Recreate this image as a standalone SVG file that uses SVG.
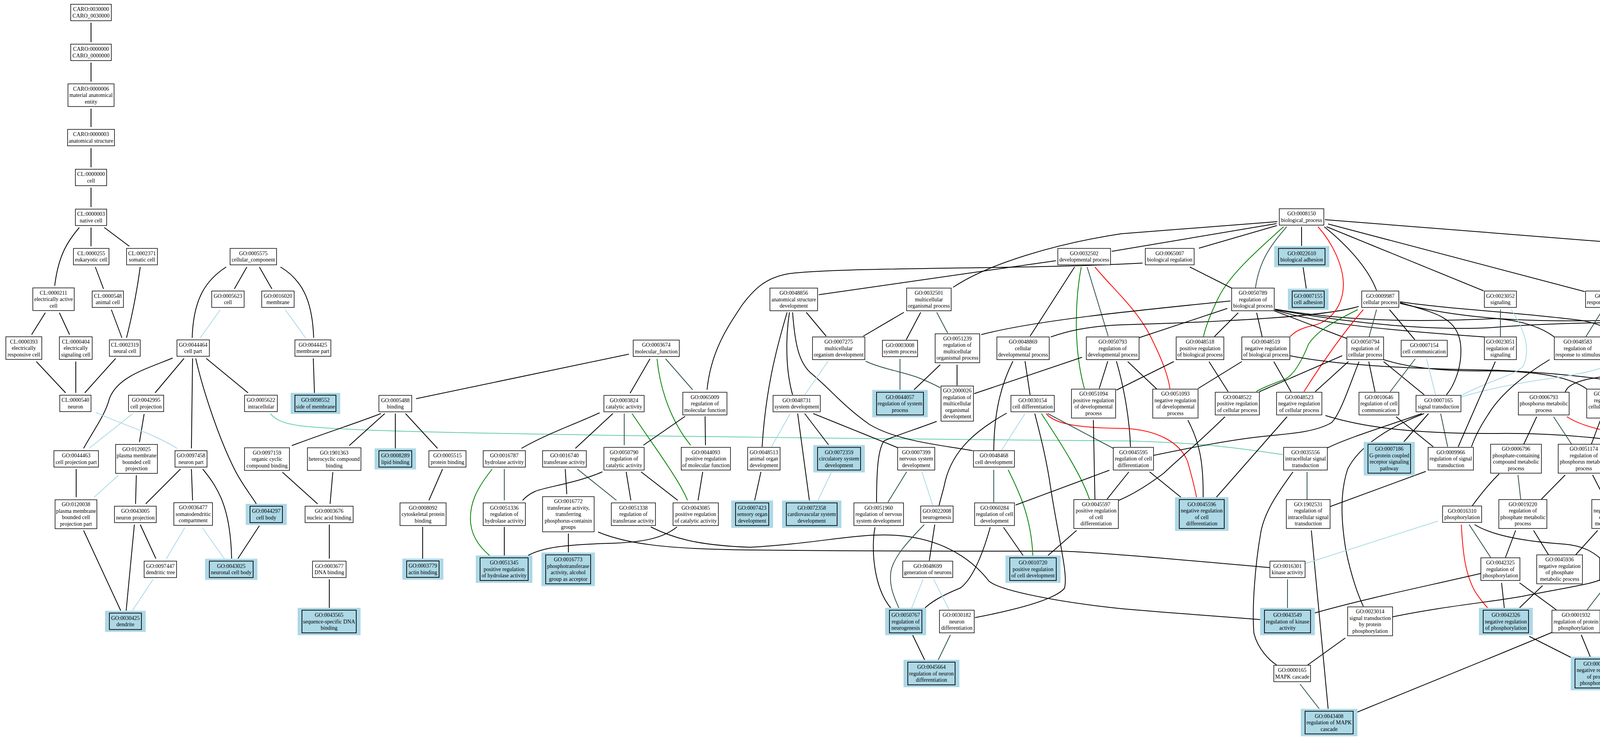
<svg xmlns="http://www.w3.org/2000/svg" width="5759" height="1888" viewBox="0 0 5759 1888" style="width:5759px;height:1888px;max-width:none;max-height:none;display:block">
<style>
.n rect{fill:#fff;stroke:#000;stroke-width:1.5}
.h .o{fill:#add8e6;stroke:none}
.h .i{fill:#add8e6;stroke:#000;stroke-width:1.8}
text{font-family:"Liberation Serif","Times New Roman",serif;font-size:14px;text-anchor:middle;fill:#000}
#edges path{fill:none;stroke-width:2}
.k{stroke:#000}.p{stroke:#add8e6}.r{stroke:#2f4f4f}.g{stroke:#008000}.x{stroke:#ff0000}.a{stroke:#66cdaa}
</style>
<rect width="5759" height="1888" fill="#fff"/>
<g id="edges">
<path class="k" d="M233,58 L233,108"/>
<path class="k" d="M233,160 L233,209"/>
<path class="k" d="M233,278 L233,325"/>
<path class="k" d="M233,379 L233,428"/>
<path class="k" d="M233,480 L233,530"/>
<path class="k" d="M203,582 C175,615 150,650 140,731"/>
<path class="k" d="M233,582 L233,630"/>
<path class="k" d="M267,582 L331,630"/>
<path class="k" d="M244,683 L265,739"/>
<path class="k" d="M359,683 C350,750 335,820 324,864"/>
<path class="k" d="M116,800 L81,856"/>
<path class="k" d="M152,800 L178,856"/>
<path class="k" d="M285,792 L312,864"/>
<path class="k" d="M579,683 C530,715 495,760 492,864"/>
<path class="k" d="M632,683 L600,739"/>
<path class="k" d="M664,683 L696,739"/>
<path class="k" d="M718,683 C780,720 800,780 803,864"/>
<path class="p" d="M564,792 L513,864"/>
<path class="p" d="M730,792 L782,864"/>
<path class="k" d="M93,925 L168,1005"/>
<path class="k" d="M194,925 L194,1005"/>
<path class="k" d="M296,917 L217,1005"/>
<path class="k" d="M442,916 C370,945 300,965 280,1020 C270,1060 240,1100 214,1147"/>
<path class="k" d="M471,917 L397,1005"/>
<path class="k" d="M493,917 L490,1147"/>
<path class="k" d="M501,917 C520,1000 560,1120 600,1200 C620,1240 645,1270 656,1289"/>
<path class="k" d="M528,917 L635,1005"/>
<path class="k" d="M802,917 L805,1005"/>
<path class="a" d="M692,1058 C720,1090 760,1092 960,1101 C1400,1115 2500,1125 2880,1128 C3100,1133 3190,1150 3284,1163"/>
<path class="k" d="M369,1059 L357,1131"/>
<path class="p" d="M340,1058 L228,1147"/>
<path class="p" d="M245,1055 C300,1080 360,1100 392,1115 C420,1128 440,1138 453,1147"/>
<path class="k" d="M195,1200 L195,1272"/>
<path class="p" d="M303,1216 L241,1272"/>
<path class="k" d="M349,1216 L347,1289"/>
<path class="k" d="M462,1200 L373,1289"/>
<path class="k" d="M490,1200 L493,1280"/>
<path class="k" d="M519,1200 C560,1250 590,1300 593,1429"/>
<path class="k" d="M214,1357 L309,1562"/>
<path class="k" d="M344,1342 L323,1562"/>
<path class="k" d="M359,1342 L399,1429"/>
<path class="p" d="M473,1350 L426,1429"/>
<path class="p" d="M518,1350 L574,1429"/>
<path class="k" d="M664,1345 L609,1429"/>
<path class="p" d="M392,1482 L339,1562"/>
<path class="k" d="M723,1208 L813,1289"/>
<path class="k" d="M852,1208 L845,1289"/>
<path class="k" d="M843,1342 L843,1429"/>
<path class="k" d="M843,1482 L843,1555"/>
<path class="k" d="M975,1058 C920,1080 840,1105 747,1140"/>
<path class="k" d="M985,1058 L894,1140"/>
<path class="k" d="M1610,906 L1065,1020"/>
<path class="k" d="M1664,918 L1613,1006"/>
<path class="g" d="M1682,918 C1690,1000 1720,1080 1768,1139"/>
<path class="r" d="M1704,918 L1773,997"/>
<path class="k" d="M2925,673 C2600,690 2150,683 2020,700 C1960,710 1930,740 1900,780 C1860,840 1820,900 1810,997"/>
<path class="k" d="M1012,1058 L1012,1147"/>
<path class="k" d="M1038,1058 L1120,1147"/>
<path class="k" d="M1535,1056 C1460,1090 1400,1110 1335,1147"/>
<path class="k" d="M1569,1058 L1473,1147"/>
<path class="r" d="M1598,1058 L1598,1139"/>
<path class="g" d="M1618,1058 C1680,1150 1740,1230 1760,1280"/>
<path class="k" d="M1754,1065 L1647,1139"/>
<path class="k" d="M1805,1065 L1806,1139"/>
<path class="k" d="M1133,1200 L1098,1280"/>
<path class="g" d="M1260,1200 C1220,1250 1200,1290 1205,1340 C1210,1380 1235,1405 1253,1421"/>
<path class="r" d="M1291,1200 L1291,1280"/>
<path class="k" d="M1447,1200 L1451,1264"/>
<path class="r" d="M1478,1200 L1578,1280"/>
<path class="k" d="M1542,1207 C1480,1235 1400,1245 1370,1257 C1355,1264 1345,1272 1338,1280"/>
<path class="k" d="M1603,1207 L1615,1280"/>
<path class="k" d="M1641,1207 L1735,1280"/>
<path class="k" d="M1799,1207 L1787,1280"/>
<path class="k" d="M1082,1348 L1082,1429"/>
<path class="k" d="M1291,1348 L1291,1421"/>
<path class="k" d="M1455,1365 L1455,1413"/>
<path class="k" d="M1733,1348 C1700,1375 1650,1388 1560,1390 C1450,1393 1390,1400 1352,1421"/>
<path class="k" d="M1666,1348 C1720,1375 1780,1395 1920,1400 C2100,1390 2200,1362 2300,1370 C2400,1378 2480,1420 2532,1487 C2560,1510 2700,1540 2880,1558 C3000,1568 3150,1580 3226,1585"/>
<path class="k" d="M1531,1361 C1600,1390 1700,1405 1920,1407 C2300,1411 2600,1410 2716,1410 C2800,1412 3000,1430 3250,1452"/>
<path class="k" d="M3270,567 L2870,598 C2700,624 2530,675 2440,735"/>
<path class="k" d="M3268,572 L2846,643"/>
<path class="k" d="M2703,667 L2096,754"/>
<path class="k" d="M2751,683 L2637,860"/>
<path class="g" d="M2768,683 C2750,780 2750,900 2776,994"/>
<path class="r" d="M2783,683 L2837,860"/>
<path class="x" d="M2803,683 C2850,740 2910,790 2945,860 C2975,920 2990,960 2995,994"/>
<path class="k" d="M3150,770 C2900,795 2650,820 2512,856"/>
<path class="k" d="M3478,784 C3400,808 3180,822 2870,831 C2780,835 2730,848 2690,862"/>
<path class="k" d="M2015,799 C1985,900 1960,1000 1951,1143"/>
<path class="k" d="M2021,799 C2010,870 2012,950 2029,1010"/>
<path class="k" d="M2029,799 C2035,880 2045,930 2079,957 C2130,1000 2160,1040 2226,1086 C2300,1130 2420,1140 2490,1153"/>
<path class="k" d="M2064,799 L2115,860"/>
<path class="k" d="M2314,799 L2210,860"/>
<path class="k" d="M2357,799 L2320,869"/>
<path class="r" d="M2398,799 L2426,852"/>
<path class="p" d="M2120,924 L2060,1010"/>
<path class="r" d="M2216,924 C2260,945 2330,955 2360,970 C2380,978 2392,984 2407,992"/>
<path class="r" d="M2304,918 L2304,997"/>
<path class="k" d="M2407,933 L2340,997"/>
<path class="k" d="M2450,933 L2450,986"/>
<path class="k" d="M2770,914 L2494,1007"/>
<path class="k" d="M2624,924 L2637,1010"/>
<path class="k" d="M2593,924 C2560,990 2545,1060 2544,1152"/>
<path class="k" d="M2836,924 L2814,994"/>
<path class="k" d="M2858,924 C2880,1000 2892,1080 2894,1143"/>
<path class="k" d="M3005,925 L2858,998"/>
<path class="p" d="M2624,1058 L2564,1152"/>
<path class="k" d="M2577,1057 C2500,1100 2440,1150 2420,1230 C2415,1255 2408,1275 2404,1293"/>
<path class="k" d="M2649,1058 C2665,1120 2680,1180 2690,1250 C2710,1380 2735,1470 2725,1505 C2700,1535 2600,1560 2496,1580"/>
<path class="g" d="M2666,1058 C2720,1140 2770,1220 2789,1277"/>
<path class="x" d="M2678,1058 C2700,1085 2760,1095 2880,1096 C2960,1100 3020,1130 3040,1180 C3050,1215 3058,1245 3063,1272"/>
<path class="r" d="M2682,1058 L2850,1147"/>
<path class="k" d="M2799,1075 L2803,1277"/>
<path class="p" d="M2023,1058 L1975,1143"/>
<path class="k" d="M2042,1058 L2072,1280"/>
<path class="k" d="M2060,1058 L2121,1138"/>
<path class="k" d="M2082,1058 L2300,1146"/>
<path class="k" d="M2398,1078 C2340,1100 2290,1115 2263,1128 C2248,1150 2244,1200 2244,1285"/>
<path class="k" d="M1948,1207 L1932,1280"/>
<path class="p" d="M2128,1209 L2094,1280"/>
<path class="r" d="M2321,1207 L2273,1285"/>
<path class="p" d="M2360,1207 L2388,1293"/>
<path class="r" d="M2544,1202 L2544,1285"/>
<path class="g" d="M2581,1202 C2605,1250 2640,1320 2644,1421"/>
<path class="k" d="M2840,1203 L2600,1292"/>
<path class="k" d="M2890,1207 L2834,1277"/>
<path class="k" d="M2943,1207 L3023,1272"/>
<path class="k" d="M3136,1066 C3060,1140 3000,1190 2980,1210 C2940,1240 2900,1265 2864,1280"/>
<path class="k" d="M2240,1349 C2230,1400 2235,1500 2280,1555"/>
<path class="r" d="M2366,1342 C2330,1380 2290,1420 2281,1460 C2275,1500 2290,1530 2301,1555"/>
<path class="k" d="M2393,1342 L2379,1434"/>
<path class="k" d="M2535,1349 C2515,1420 2490,1480 2459,1504 C2420,1520 2390,1535 2368,1555"/>
<path class="k" d="M2569,1349 L2619,1421"/>
<path class="k" d="M2756,1357 L2683,1421"/>
<path class="p" d="M2363,1482 L2334,1555"/>
<path class="p" d="M2390,1482 L2430,1560"/>
<path class="k" d="M2336,1624 L2367,1688"/>
<path class="r" d="M2433,1624 L2402,1688"/>
<path class="k" d="M3269,577 L3069,635"/>
<path class="r" d="M3294,580 C3260,620 3225,660 3214,736"/>
<path class="g" d="M3286,580 C3220,640 3150,700 3120,760 C3100,800 3085,840 3081,861"/>
<path class="k" d="M3332,580 L3332,629"/>
<path class="x" d="M3374,580 C3410,620 3440,680 3439,731 C3437,790 3400,825 3360,833 C3330,840 3315,848 3303,861"/>
<path class="k" d="M3390,580 C3440,620 3500,680 3524,743"/>
<path class="k" d="M3396,580 L3798,744"/>
<path class="k" d="M3400,573 L4057,746"/>
<path class="k" d="M3392,562 L4521,651"/>
<path class="k" d="M3336,684 L3344,738"/>
<path class="k" d="M3046,683 L3153,737"/>
<path class="k" d="M3142,789 L2916,864"/>
<path class="k" d="M3170,800 L3109,861"/>
<path class="k" d="M3217,800 L3231,861"/>
<path class="k" d="M3262,795 L3448,866"/>
<path class="k" d="M3264,793 C3360,822 3480,840 3800,862"/>
<path class="k" d="M3264,791 C3500,830 3700,820 3830,815 C3900,820 3950,840 3979,862"/>
<path class="k" d="M3264,792 C3500,835 3700,845 3820,838 C4000,823 4300,820 4400,835 C4460,845 4495,855 4523,866"/>
<path class="g" d="M3476,792 C3400,830 3370,850 3350,880 C3330,930 3310,960 3290,970 C3250,985 3225,995 3216,1002"/>
<path class="x" d="M3490,792 C3440,850 3390,920 3338,1002"/>
<path class="r" d="M3524,792 L3505,861"/>
<path class="k" d="M3557,792 L3622,869"/>
<path class="k" d="M3584,772 C3700,790 3900,800 4050,820 C4100,830 4130,845 4148,861"/>
<path class="k" d="M3584,776 C3800,830 4000,820 4150,820 C4230,822 4280,840 4306,861"/>
<path class="k" d="M3584,774 C3670,800 3730,810 3739,880 C3745,940 3720,990 3703,1010"/>
<path class="k" d="M3095,925 L3144,1002"/>
<path class="k" d="M3179,925 L3067,994"/>
<path class="k" d="M3261,925 L3305,1002"/>
<path class="k" d="M3302,910 C3450,940 3700,945 3830,947 C4000,955 4150,970 4265,1004"/>
<path class="k" d="M3436,910 L3224,1002"/>
<path class="k" d="M3452,925 L3367,1002"/>
<path class="k" d="M3479,925 C3450,1000 3430,1060 3409,1081 C3370,1105 3300,1110 3237,1116 C3150,1125 3050,1145 2953,1165"/>
<path class="k" d="M3504,925 L3520,1002"/>
<path class="k" d="M3542,925 L3646,1010"/>
<path class="k" d="M3542,920 C3620,945 3720,950 3820,949 C3940,950 4020,965 4062,995"/>
<path class="r" d="M3623,918 L3559,1002"/>
<path class="p" d="M3652,918 L3675,1010"/>
<path class="r" d="M3841,792 L3841,861"/>
<path class="p" d="M3869,792 C3900,840 3920,890 3900,936 C3880,960 3820,970 3740,1012"/>
<path class="p" d="M4141,925 C4100,945 4050,958 3942,972 C3860,985 3790,1000 3740,1016"/>
<path class="k" d="M3828,925 L3733,1143"/>
<path class="k" d="M3967,920 C3900,960 3840,1010 3810,1060 C3790,1090 3775,1120 3767,1143"/>
<path class="k" d="M3574,1066 L3669,1143"/>
<path class="r" d="M3688,1058 L3706,1143"/>
<path class="k" d="M3657,1058 L3594,1130"/>
<path class="k" d="M3646,1058 C3560,1090 3480,1140 3450,1200 C3430,1260 3433,1330 3445,1405 C3460,1480 3480,1530 3490,1551"/>
<path class="k" d="M3640,1058 C3550,1090 3450,1120 3398,1146"/>
<path class="k" d="M3393,1063 C3480,1090 3600,1110 3830,1109 C4000,1107 4150,1125 4216,1142"/>
<path class="k" d="M3295,1066 L3114,1272"/>
<path class="k" d="M3041,1075 C3070,1130 3081,1180 3080,1272"/>
<path class="r" d="M3346,1207 L3346,1277"/>
<path class="k" d="M3310,1207 C3280,1250 3240,1300 3228,1360 C3212,1450 3205,1560 3210,1620 C3220,1660 3250,1690 3268,1701"/>
<path class="k" d="M3650,1206 L3405,1296"/>
<path class="k" d="M3357,1357 L3400,1813"/>
<path class="r" d="M3296,1482 L3296,1555"/>
<path class="p" d="M3681,1333 L3341,1442"/>
<path class="x" d="M3741,1342 C3745,1420 3752,1470 3776,1513 C3790,1535 3800,1545 3808,1555"/>
<path class="r" d="M3761,1342 L3816,1426"/>
<path class="k" d="M3775,1342 C3820,1370 3900,1385 4004,1392 C4050,1396 4075,1410 4095,1427"/>
<path class="k" d="M3791,1467 C3650,1500 3500,1530 3366,1568"/>
<path class="k" d="M3444,1632 L3348,1701"/>
<path class="k" d="M3565,1578 C3700,1550 3820,1540 3900,1525 C4000,1505 4070,1495 4095,1484"/>
<path class="r" d="M3328,1750 L3377,1813"/>
<path class="k" d="M3973,1618 C3800,1690 3600,1770 3474,1822"/>
<path class="k" d="M3844,1491 L3851,1555"/>
<path class="k" d="M3890,1491 L3984,1560"/>
<path class="k" d="M3915,1628 L4022,1682"/>
<path class="k" d="M3949,1498 L3890,1555"/>
<path class="r" d="M4116,1491 L4063,1560"/>
<path class="x" d="M4140,1491 C4132,1560 4115,1630 4105,1680"/>
<path class="k" d="M4048,1624 L4071,1680"/>
<path class="k" d="M4419,1490 C4360,1510 4300,1535 4200,1555 C4150,1565 4120,1570 4096,1578"/>
<path class="k" d="M4458,1491 L4424,1546"/>
<path class="k" d="M4342,1498 L4371,1546"/>
<path class="k" d="M4325,1621 L4159,1692"/>
<path class="x" d="M4593,1349 C4595,1400 4590,1470 4542,1521 C4520,1540 4490,1557 4470,1567"/>
<path class="r" d="M4562,1349 L4507,1426"/>
<path class="k" d="M4538,1349 C4500,1370 4450,1385 4371,1392 C4300,1396 4240,1405 4195,1427"/>
<path class="k" d="M4936,1326 C4800,1350 4600,1380 4410,1412 C4395,1414 4385,1416 4374,1420"/>
<path class="k" d="M4395,1357 L4350,1419"/>
<path class="k" d="M4444,1357 L4467,1426"/>
<path class="k" d="M4935,1205 C4850,1235 4700,1228 4616,1236 C4550,1245 4510,1262 4483,1278"/>
<path class="k" d="M4780,1207 L4651,1286"/>
<path class="k" d="M4716,1208 C4800,1240 4880,1270 4936,1290"/>
<path class="k" d="M3880,1357 L3854,1426"/>
<path class="k" d="M3926,1357 L3964,1419"/>
<path class="k" d="M4090,1357 L4034,1419"/>
<path class="r" d="M3886,1215 L3893,1277"/>
<path class="k" d="M3838,1212 C3810,1240 3790,1265 3769,1294"/>
<path class="k" d="M3934,1066 L3901,1136"/>
<path class="r" d="M3977,1066 L4023,1136"/>
<path class="x" d="M4011,1066 C4040,1085 4080,1095 4114,1103 C4140,1112 4150,1130 4155,1160 C4160,1200 4155,1240 4148,1277"/>
<path class="k" d="M4007,1215 L3946,1277"/>
<path class="k" d="M4077,1215 L4109,1277"/>
<path class="k" d="M4097,1075 L4074,1136"/>
<path class="k" d="M4165,1075 L4229,1136"/>
<path class="k" d="M4171,1058 C4260,1095 4330,1120 4359,1135 C4390,1160 4405,1200 4415,1240 L4423,1277"/>
<path class="k" d="M4233,1215 L4175,1277"/>
<path class="k" d="M4283,1215 L4310,1419"/>
<path class="k" d="M4313,1066 L4291,1136"/>
<path class="k" d="M4374,1066 C4400,1085 4440,1100 4500,1115 C4540,1125 4570,1132 4599,1140"/>
<path class="k" d="M4380,1064 C4450,1100 4600,1125 4770,1125 C4930,1120 5085,1120 5140,1130 C5180,1138 5200,1145 5218,1152"/>
<path class="k" d="M4486,1075 L4487,1143"/>
<path class="k" d="M4389,925 L4446,995"/>
<path class="k" d="M4684,920 L4537,1000"/>
<path class="k" d="M4591,925 L4617,995"/>
<path class="r" d="M4712,925 L4667,995"/>
<path class="k" d="M4642,1075 L4651,1136"/>
<path class="x" d="M4736,925 C4738,980 4735,1030 4732,1050 C4720,1090 4700,1115 4687,1136"/>
<path class="k" d="M4523,908 C4430,935 4350,955 4300,965 C4240,980 4200,992 4171,1000"/>
<path class="k" d="M4523,925 L4384,1004"/>
<path class="x" d="M4566,683 C4540,760 4500,830 4460,890 C4420,950 4390,980 4371,1003"/>
<path class="k" d="M4523,677 C4460,715 4400,770 4371,861"/>
<path class="r" d="M4576,683 L4576,861"/>
<path class="k" d="M4585,683 C4600,730 4630,780 4677,808 C4720,830 4850,855 4931,876"/>
<path class="k" d="M4615,683 L4686,737"/>
<path class="k" d="M4629,665 L5155,755"/>
<path class="k" d="M4191,769 C4500,790 4780,810 4960,820 C5150,832 5300,850 5460,880"/>
<path class="k" d="M4737,800 L4737,861"/>
<path class="k" d="M4791,778 C4900,800 4980,825 5085,855"/>
<path class="k" d="M4760,925 C4780,950 4795,970 4809,1003"/>
<path class="k" d="M4791,907 C4900,940 5000,960 5066,979 C5085,987 5095,993 5101,1003"/>
<path class="r" d="M4986,925 L4986,1003"/>
<path class="k" d="M5025,925 L5107,1003"/>
<path class="k" d="M5148,933 L5148,1003"/>
<path class="k" d="M5196,800 L5170,854"/>
<path class="r" d="M5226,800 L5291,995"/>
<path class="x" d="M5254,800 C5300,860 5350,930 5385,1000 C5410,1060 5390,1100 5349,1137"/>
<path class="k" d="M5520,918 L5520,1003"/>
<path class="k" d="M5551,918 L5643,997"/>
<path class="k" d="M5539,1066 L5576,1130"/>
<path class="k" d="M5662,1066 L5626,1130"/>
<path class="k" d="M5299,1075 L5291,1136"/>
<path class="k" d="M5247,1068 L5058,1148"/>
<path class="k" d="M5218,1205 L5056,1280"/>
<path class="k" d="M4989,1066 L4992,1144"/>
<path class="r" d="M5111,1066 L5034,1144"/>
<path class="x" d="M5139,1066 C5130,1120 5115,1160 5100,1190 C5080,1225 5055,1255 5040,1278"/>
<path class="k" d="M5100,1066 C5000,1110 4900,1115 4780,1110 C4660,1110 4580,1125 4541,1145"/>
<path class="k" d="M5101,1066 L4889,1145"/>
<path class="k" d="M4830,1066 L4830,1144"/>
<path class="k" d="M4629,920 C4700,940 4740,950 4780,955 C4840,960 4890,975 4935,1003"/>
<path class="k" d="M4629,926 C4750,955 4900,950 5054,949 C5150,950 5210,970 5247,996"/>
<path class="k" d="M4689,1058 C4720,1075 4750,1085 4780,1090 C4850,1100 4900,1120 4935,1144"/>
<path class="k" d="M4512,1207 L4564,1286"/>
<path class="r" d="M4472,1207 L4446,1277"/>
<path class="x" d="M4435,1198 C4400,1225 4360,1250 4340,1300 C4325,1340 4318,1380 4315,1419"/>
<path class="r" d="M4304,925 L4171,998"/>
<path class="k" d="M4304,922 C4250,945 4163,953 4065,970 C4030,978 4012,988 4007,1003"/>
<path class="x" d="M4297,925 C4260,960 4240,1000 4230,1040 C4225,1080 4240,1110 4255,1136"/>
<path class="r" d="M4103,792 L4060,861"/>
<path class="k" d="M4137,792 L4178,861"/>
<path class="k" d="M2887,925 L2961,995"/>
</g>
<g id="CARO_0030000" class="n"><rect x="181" y="11" width="104" height="42"/><text x="233" y="28.25">CARO:0030000<tspan x="233" dy="16.5">CARO_0030000</tspan></text></g>
<g id="CARO_0000000" class="n"><rect x="181" y="113" width="104" height="42"/><text x="233" y="130.25">CARO:0000000<tspan x="233" dy="16.5">CARO_0000000</tspan></text></g>
<g id="CARO_0000006" class="n"><rect x="174" y="214.5" width="118" height="58"/><text x="233" y="231.5">CARO:0000006<tspan x="233" dy="16.5">material anatomical</tspan><tspan x="233" dy="16.5">entity</tspan></text></g>
<g id="CARO_0000003" class="n"><rect x="173" y="331" width="120" height="42"/><text x="233" y="348.25">CARO:0000003<tspan x="233" dy="16.5">anatomical structure</tspan></text></g>
<g id="CL_0000000" class="n"><rect x="193" y="433" width="80" height="42"/><text x="233" y="450.25">CL:0000000<tspan x="233" dy="16.5">cell</tspan></text></g>
<g id="CL_0000003" class="n"><rect x="193" y="535" width="80" height="42"/><text x="233" y="552.25">CL:0000003<tspan x="233" dy="16.5">native cell</tspan></text></g>
<g id="CL_0000255" class="n"><rect x="188" y="635.5" width="91" height="42"/><text x="233.5" y="652.75">CL:0000255<tspan x="233.5" dy="16.5">eukaryotic cell</tspan></text></g>
<g id="CL_0002371" class="n"><rect x="324" y="635.5" width="79" height="42"/><text x="363.5" y="652.75">CL:0002371<tspan x="363.5" dy="16.5">somatic cell</tspan></text></g>
<g id="CL_0000211" class="n"><rect x="84" y="736.5" width="106" height="58"/><text x="137" y="753.5">CL:0000211<tspan x="137" dy="16.5">electrically active</tspan><tspan x="137" dy="16.5">cell</tspan></text></g>
<g id="CL_0000548" class="n"><rect x="236" y="744.5" width="80" height="42"/><text x="276" y="761.75">CL:0000548<tspan x="276" dy="16.5">animal cell</tspan></text></g>
<g id="CL_0000393" class="n"><rect x="15" y="861.5" width="92" height="58"/><text x="61" y="878.5">CL:0000393<tspan x="61" dy="16.5">electrically</tspan><tspan x="61" dy="16.5">responsive cell</tspan></text></g>
<g id="CL_0000404" class="n"><rect x="152" y="861.5" width="84" height="58"/><text x="194" y="878.5">CL:0000404<tspan x="194" dy="16.5">electrically</tspan><tspan x="194" dy="16.5">signaling cell</tspan></text></g>
<g id="CL_0002319" class="n"><rect x="280" y="869.5" width="79" height="42"/><text x="319.5" y="886.75">CL:0002319<tspan x="319.5" dy="16.5">neural cell</tspan></text></g>
<g id="GO_0005575" class="n"><rect x="589" y="635.5" width="119" height="42"/><text x="648.5" y="652.75">GO:0005575<tspan x="648.5" dy="16.5">cellular_component</tspan></text></g>
<g id="GO_0005623" class="n"><rect x="542" y="744.5" width="83" height="42"/><text x="583.5" y="761.75">GO:0005623<tspan x="583.5" dy="16.5">cell</tspan></text></g>
<g id="GO_0016020" class="n"><rect x="670" y="744.5" width="83" height="42"/><text x="711.5" y="761.75">GO:0016020<tspan x="711.5" dy="16.5">membrane</tspan></text></g>
<g id="GO_0044464" class="n"><rect x="453" y="869.5" width="83" height="42"/><text x="494.5" y="886.75">GO:0044464<tspan x="494.5" dy="16.5">cell part</tspan></text></g>
<g id="GO_0044425" class="n"><rect x="755" y="869.5" width="92" height="42"/><text x="801" y="886.75">GO:0044425<tspan x="801" dy="16.5">membrane part</tspan></text></g>
<g id="CL_0000540" class="n"><rect x="153" y="1011" width="80" height="42"/><text x="193" y="1028.25">CL:0000540<tspan x="193" dy="16.5">neuron</tspan></text></g>
<g id="GO_0042995" class="n"><rect x="329" y="1011" width="90" height="42"/><text x="374" y="1028.25">GO:0042995<tspan x="374" dy="16.5">cell projection</tspan></text></g>
<g id="GO_0005622" class="n"><rect x="626" y="1011" width="84" height="42"/><text x="668" y="1028.25">GO:0005622<tspan x="668" dy="16.5">intracellular</tspan></text></g>
<g id="GO_0098552" class="h"><rect class="o" x="744" y="1005" width="127" height="54"/><rect class="i" x="755" y="1011" width="105" height="42"/><text x="807.5" y="1028.25">GO:0098552<tspan x="807.5" dy="16.5">side of membrane</tspan></text></g>
<g id="GO_0044463" class="n"><rect x="138" y="1153" width="114" height="42"/><text x="195" y="1170.25">GO:0044463<tspan x="195" dy="16.5">cell projection part</tspan></text></g>
<g id="GO_0120025" class="n"><rect x="296" y="1137" width="107" height="74"/><text x="349.5" y="1153.75">GO:0120025<tspan x="349.5" dy="16.5">plasma membrane</tspan><tspan x="349.5" dy="16.5">bounded cell</tspan><tspan x="349.5" dy="16.5">projection</tspan></text></g>
<g id="GO_0097458" class="n"><rect x="448" y="1153" width="82" height="42"/><text x="489" y="1170.25">GO:0097458<tspan x="489" dy="16.5">neuron part</tspan></text></g>
<g id="GO_0097159" class="n"><rect x="626" y="1145.5" width="115" height="58"/><text x="683.5" y="1162.5">GO:0097159<tspan x="683.5" dy="16.5">organic cyclic</tspan><tspan x="683.5" dy="16.5">compound binding</tspan></text></g>
<g id="GO_1901363" class="n"><rect x="787" y="1145.5" width="137" height="58"/><text x="855.5" y="1162.5">GO:1901363<tspan x="855.5" dy="16.5">heterocyclic compound</tspan><tspan x="855.5" dy="16.5">binding</tspan></text></g>
<g id="GO_0120038" class="n"><rect x="141" y="1278.5" width="107" height="74"/><text x="194.5" y="1295.25">GO:0120038<tspan x="194.5" dy="16.5">plasma membrane</tspan><tspan x="194.5" dy="16.5">bounded cell</tspan><tspan x="194.5" dy="16.5">projection part</tspan></text></g>
<g id="GO_0043005" class="n"><rect x="293" y="1295" width="107" height="42"/><text x="346.5" y="1312.25">GO:0043005<tspan x="346.5" dy="16.5">neuron projection</tspan></text></g>
<g id="GO_0036477" class="n"><rect x="445" y="1286" width="99" height="58"/><text x="494.5" y="1303">GO:0036477<tspan x="494.5" dy="16.5">somatodendritic</tspan><tspan x="494.5" dy="16.5">compartment</tspan></text></g>
<g id="GO_0044297" class="h"><rect class="o" x="629" y="1289" width="105" height="54"/><rect class="i" x="640" y="1295" width="83" height="42"/><text x="681.5" y="1312.25">GO:0044297<tspan x="681.5" dy="16.5">cell body</tspan></text></g>
<g id="GO_0003676" class="n"><rect x="781" y="1295" width="123" height="42"/><text x="842.5" y="1312.25">GO:0003676<tspan x="842.5" dy="16.5">nucleic acid binding</tspan></text></g>
<g id="GO_0097447" class="n"><rect x="369" y="1435.5" width="83" height="42"/><text x="410.5" y="1452.75">GO:0097447<tspan x="410.5" dy="16.5">dendritic tree</tspan></text></g>
<g id="GO_0043025" class="h"><rect class="o" x="525" y="1429.5" width="134" height="54"/><rect class="i" x="536" y="1435.5" width="112" height="42"/><text x="592" y="1452.75">GO:0043025<tspan x="592" dy="16.5">neuronal cell body</tspan></text></g>
<g id="GO_0003677" class="n"><rect x="800" y="1435.5" width="86" height="42"/><text x="843" y="1452.75">GO:0003677<tspan x="843" dy="16.5">DNA binding</tspan></text></g>
<g id="GO_0030425" class="h"><rect class="o" x="269" y="1562.5" width="104" height="54"/><rect class="i" x="280" y="1568.5" width="82" height="42"/><text x="321" y="1585.75">GO:0030425<tspan x="321" dy="16.5">dendrite</tspan></text></g>
<g id="GO_0043565" class="h"><rect class="o" x="762" y="1555" width="161" height="70"/><rect class="i" x="773" y="1561" width="139" height="58"/><text x="842.5" y="1578">GO:0043565<tspan x="842.5" dy="16.5">sequence-specific DNA</tspan><tspan x="842.5" dy="16.5">binding</tspan></text></g>
<g id="GO_0003674" class="n"><rect x="1621" y="870" width="118" height="42"/><text x="1680" y="887.25">GO:0003674<tspan x="1680" dy="16.5">molecular_function</tspan></text></g>
<g id="GO_0005488" class="n"><rect x="970" y="1011.5" width="84" height="42"/><text x="1012" y="1028.75">GO:0005488<tspan x="1012" dy="16.5">binding</tspan></text></g>
<g id="GO_0003824" class="n"><rect x="1546" y="1011.5" width="103" height="42"/><text x="1597.5" y="1028.75">GO:0003824<tspan x="1597.5" dy="16.5">catalytic activity</tspan></text></g>
<g id="GO_0065009" class="n"><rect x="1748" y="1003.5" width="113" height="58"/><text x="1804.5" y="1020.5">GO:0065009<tspan x="1804.5" dy="16.5">regulation of</tspan><tspan x="1804.5" dy="16.5">molecular function</tspan></text></g>
<g id="GO_0008289" class="h"><rect class="o" x="959" y="1147" width="106" height="54"/><rect class="i" x="970" y="1153" width="84" height="42"/><text x="1012" y="1170.25">GO:0008289<tspan x="1012" dy="16.5">lipid binding</tspan></text></g>
<g id="GO_0005515" class="n"><rect x="1098" y="1153" width="95" height="42"/><text x="1145.5" y="1170.25">GO:0005515<tspan x="1145.5" dy="16.5">protein binding</tspan></text></g>
<g id="GO_0016787" class="n"><rect x="1237" y="1153" width="108" height="42"/><text x="1291" y="1170.25">GO:0016787<tspan x="1291" dy="16.5">hydrolase activity</tspan></text></g>
<g id="GO_0016740" class="n"><rect x="1389" y="1153" width="112" height="42"/><text x="1445" y="1170.25">GO:0016740<tspan x="1445" dy="16.5">transferase activity</tspan></text></g>
<g id="GO_0050790" class="n"><rect x="1546" y="1144.5" width="103" height="58"/><text x="1597.5" y="1161.5">GO:0050790<tspan x="1597.5" dy="16.5">regulation of</tspan><tspan x="1597.5" dy="16.5">catalytic activity</tspan></text></g>
<g id="GO_0044093" class="n"><rect x="1744" y="1144.5" width="126" height="58"/><text x="1807" y="1161.5">GO:0044093<tspan x="1807" dy="16.5">positive regulation</tspan><tspan x="1807" dy="16.5">of molecular function</tspan></text></g>
<g id="GO_0008092" class="n"><rect x="1024" y="1286.5" width="118" height="58"/><text x="1083" y="1303.5">GO:0008092<tspan x="1083" dy="16.5">cytoskeletal protein</tspan><tspan x="1083" dy="16.5">binding</tspan></text></g>
<g id="GO_0051336" class="n"><rect x="1237" y="1286.5" width="108" height="58"/><text x="1291" y="1303.5">GO:0051336<tspan x="1291" dy="16.5">regulation of</tspan><tspan x="1291" dy="16.5">hydrolase activity</tspan></text></g>
<g id="GO_0016772" class="n"><rect x="1389" y="1270.5" width="132" height="90"/><text x="1455" y="1287">GO:0016772<tspan x="1455" dy="16.5">transferase activity,</tspan><tspan x="1455" dy="16.5">transferring</tspan><tspan x="1455" dy="16.5">phosphorus-containin</tspan><tspan x="1455" dy="16.5">groups</tspan></text></g>
<g id="GO_0051338" class="n"><rect x="1565" y="1286.5" width="113" height="58"/><text x="1621.5" y="1303.5">GO:0051338<tspan x="1621.5" dy="16.5">regulation of</tspan><tspan x="1621.5" dy="16.5">transferase activity</tspan></text></g>
<g id="GO_0043085" class="n"><rect x="1723" y="1286.5" width="116" height="58"/><text x="1781" y="1303.5">GO:0043085<tspan x="1781" dy="16.5">positive regulation</tspan><tspan x="1781" dy="16.5">of catalytic activity</tspan></text></g>
<g id="GO_0007423" class="h"><rect class="o" x="1872" y="1280.5" width="107" height="70"/><rect class="i" x="1883" y="1286.5" width="85" height="58"/><text x="1925.5" y="1303.5">GO:0007423<tspan x="1925.5" dy="16.5">sensory organ</tspan><tspan x="1925.5" dy="16.5">development</tspan></text></g>
<g id="GO_0003779" class="h"><rect class="o" x="1030" y="1429" width="105" height="54"/><rect class="i" x="1041" y="1435" width="83" height="42"/><text x="1082.5" y="1452.25">GO:0003779<tspan x="1082.5" dy="16.5">actin binding</tspan></text></g>
<g id="GO_0051345" class="h"><rect class="o" x="1218" y="1421" width="145" height="70"/><rect class="i" x="1229" y="1427" width="123" height="58"/><text x="1290.5" y="1444">GO:0051345<tspan x="1290.5" dy="16.5">positive regulation</tspan><tspan x="1290.5" dy="16.5">of hydrolase activity</tspan></text></g>
<g id="GO_0016773" class="h"><rect class="o" x="1386" y="1413.5" width="137" height="86"/><rect class="i" x="1397" y="1419.5" width="115" height="74"/><text x="1454.5" y="1436.25">GO:0016773<tspan x="1454.5" dy="16.5">phosphotransferase</tspan><tspan x="1454.5" dy="16.5">activity, alcohol</tspan><tspan x="1454.5" dy="16.5">group as acceptor</tspan></text></g>
<g id="GO_0032502" class="n"><rect x="2708" y="635.5" width="135" height="42"/><text x="2775.5" y="652.75">GO:0032502<tspan x="2775.5" dy="16.5">developmental process</tspan></text></g>
<g id="GO_0048856" class="n"><rect x="1971" y="737" width="122" height="58"/><text x="2032" y="754">GO:0048856<tspan x="2032" dy="16.5">anatomical structure</tspan><tspan x="2032" dy="16.5">development</tspan></text></g>
<g id="GO_0032501" class="n"><rect x="2321" y="737" width="114" height="58"/><text x="2378" y="754">GO:0032501<tspan x="2378" dy="16.5">multicellular</tspan><tspan x="2378" dy="16.5">organismal process</tspan></text></g>
<g id="GO_0007275" class="n"><rect x="2080" y="862" width="134" height="58"/><text x="2147" y="879">GO:0007275<tspan x="2147" dy="16.5">multicellular</tspan><tspan x="2147" dy="16.5">organism development</tspan></text></g>
<g id="GO_0003008" class="n"><rect x="2259" y="870.5" width="90" height="42"/><text x="2304" y="887.75">GO:0003008<tspan x="2304" dy="16.5">system process</tspan></text></g>
<g id="GO_0051239" class="n"><rect x="2394" y="854" width="114" height="74"/><text x="2451" y="870.75">GO:0051239<tspan x="2451" dy="16.5">regulation of</tspan><tspan x="2451" dy="16.5">multicellular</tspan><tspan x="2451" dy="16.5">organismal process</tspan></text></g>
<g id="GO_0048869" class="n"><rect x="2552" y="862" width="134" height="58"/><text x="2619" y="879">GO:0048869<tspan x="2619" dy="16.5">cellular</tspan><tspan x="2619" dy="16.5">developmental process</tspan></text></g>
<g id="GO_0050793" class="n"><rect x="2781" y="862" width="135" height="58"/><text x="2848.5" y="879">GO:0050793<tspan x="2848.5" dy="16.5">regulation of</tspan><tspan x="2848.5" dy="16.5">developmental process</tspan></text></g>
<g id="GO_0048731" class="n"><rect x="1979" y="1011.5" width="121" height="42"/><text x="2039.5" y="1028.75">GO:0048731<tspan x="2039.5" dy="16.5">system development</tspan></text></g>
<g id="GO_0044057" class="h"><rect class="o" x="2233" y="997.5" width="142" height="70"/><rect class="i" x="2244" y="1003.5" width="120" height="58"/><text x="2304" y="1020.5">GO:0044057<tspan x="2304" dy="16.5">regulation of system</tspan><tspan x="2304" dy="16.5">process</tspan></text></g>
<g id="GO_2000026" class="n"><rect x="2409" y="987.5" width="83" height="90"/><text x="2450.5" y="1004">GO:2000026<tspan x="2450.5" dy="16.5">regulation of</tspan><tspan x="2450.5" dy="16.5">multicellular</tspan><tspan x="2450.5" dy="16.5">organismal</tspan><tspan x="2450.5" dy="16.5">development</tspan></text></g>
<g id="GO_0030154" class="n"><rect x="2588" y="1011.5" width="111" height="42"/><text x="2643.5" y="1028.75">GO:0030154<tspan x="2643.5" dy="16.5">cell differentiation</tspan></text></g>
<g id="GO_0051094" class="n"><rect x="2743" y="995.5" width="113" height="74"/><text x="2799.5" y="1012.25">GO:0051094<tspan x="2799.5" dy="16.5">positive regulation</tspan><tspan x="2799.5" dy="16.5">of developmental</tspan><tspan x="2799.5" dy="16.5">process</tspan></text></g>
<g id="GO_0048513" class="n"><rect x="1914" y="1144.5" width="83" height="58"/><text x="1955.5" y="1161.5">GO:0048513<tspan x="1955.5" dy="16.5">animal organ</tspan><tspan x="1955.5" dy="16.5">development</tspan></text></g>
<g id="GO_0072359" class="h"><rect class="o" x="2082" y="1138.5" width="132" height="70"/><rect class="i" x="2093" y="1144.5" width="110" height="58"/><text x="2148" y="1161.5">GO:0072359<tspan x="2148" dy="16.5">circulatory system</tspan><tspan x="2148" dy="16.5">development</tspan></text></g>
<g id="GO_0007399" class="n"><rect x="2298" y="1144.5" width="95" height="58"/><text x="2345.5" y="1161.5">GO:0007399<tspan x="2345.5" dy="16.5">nervous system</tspan><tspan x="2345.5" dy="16.5">development</tspan></text></g>
<g id="GO_0048468" class="n"><rect x="2492" y="1153" width="105" height="42"/><text x="2544.5" y="1170.25">GO:0048468<tspan x="2544.5" dy="16.5">cell development</tspan></text></g>
<g id="GO_0045595" class="n"><rect x="2850" y="1144.5" width="103" height="58"/><text x="2901.5" y="1161.5">GO:0045595<tspan x="2901.5" dy="16.5">regulation of cell</tspan><tspan x="2901.5" dy="16.5">differentiation</tspan></text></g>
<g id="GO_0072358" class="h"><rect class="o" x="2002" y="1280.5" width="152" height="70"/><rect class="i" x="2013" y="1286.5" width="130" height="58"/><text x="2078" y="1303.5">GO:0072358<tspan x="2078" dy="16.5">cardiovascular system</tspan><tspan x="2078" dy="16.5">development</tspan></text></g>
<g id="GO_0051960" class="n"><rect x="2186" y="1286.5" width="127" height="58"/><text x="2249.5" y="1303.5">GO:0051960<tspan x="2249.5" dy="16.5">regulation of nervous</tspan><tspan x="2249.5" dy="16.5">system development</tspan></text></g>
<g id="GO_0022008" class="n"><rect x="2357" y="1294.5" width="83" height="42"/><text x="2398.5" y="1311.75">GO:0022008<tspan x="2398.5" dy="16.5">neurogenesis</tspan></text></g>
<g id="GO_0060284" class="n"><rect x="2495" y="1286.5" width="102" height="58"/><text x="2546" y="1303.5">GO:0060284<tspan x="2546" dy="16.5">regulation of cell</tspan><tspan x="2546" dy="16.5">development</tspan></text></g>
<g id="GO_0045597" class="n"><rect x="2749" y="1278" width="114" height="74"/><text x="2806" y="1294.75">GO:0045597<tspan x="2806" dy="16.5">positive regulation</tspan><tspan x="2806" dy="16.5">of cell</tspan><tspan x="2806" dy="16.5">differentiation</tspan></text></g>
<g id="GO_0048699" class="n"><rect x="2311" y="1435.5" width="128" height="42"/><text x="2375" y="1452.75">GO:0048699<tspan x="2375" dy="16.5">generation of neurons</tspan></text></g>
<g id="GO_0010720" class="h"><rect class="o" x="2574" y="1421" width="141" height="70"/><rect class="i" x="2585" y="1427" width="119" height="58"/><text x="2644.5" y="1444">GO:0010720<tspan x="2644.5" dy="16.5">positive regulation</tspan><tspan x="2644.5" dy="16.5">of cell development</tspan></text></g>
<g id="GO_0050767" class="h"><rect class="o" x="2266" y="1555" width="105" height="70"/><rect class="i" x="2277" y="1561" width="83" height="58"/><text x="2318.5" y="1578">GO:0050767<tspan x="2318.5" dy="16.5">regulation of</tspan><tspan x="2318.5" dy="16.5">neurogenesis</tspan></text></g>
<g id="GO_0030182" class="n"><rect x="2405" y="1561" width="89" height="58"/><text x="2449.5" y="1578">GO:0030182<tspan x="2449.5" dy="16.5">neuron</tspan><tspan x="2449.5" dy="16.5">differentiation</tspan></text></g>
<g id="GO_0045664" class="h"><rect class="o" x="2313" y="1688" width="143" height="70"/><rect class="i" x="2324" y="1694" width="121" height="58"/><text x="2384.5" y="1711">GO:0045664<tspan x="2384.5" dy="16.5">regulation of neuron</tspan><tspan x="2384.5" dy="16.5">differentiation</tspan></text></g>
<g id="GO_0008150" class="n"><rect x="3275" y="534" width="114" height="42"/><text x="3332" y="551.25">GO:0008150<tspan x="3332" dy="16.5">biological_process</tspan></text></g>
<g id="GO_0065007" class="n"><rect x="2932" y="635.5" width="125" height="42"/><text x="2994.5" y="652.75">GO:0065007<tspan x="2994.5" dy="16.5">biological regulation</tspan></text></g>
<g id="GO_0022610" class="h"><rect class="o" x="3262" y="629.5" width="141" height="54"/><rect class="i" x="3273" y="635.5" width="119" height="42"/><text x="3332.5" y="652.75">GO:0022610<tspan x="3332.5" dy="16.5">biological adhesion</tspan></text></g>
<g id="GO_0050789" class="n"><rect x="3153" y="737" width="109" height="58"/><text x="3207.5" y="754">GO:0050789<tspan x="3207.5" dy="16.5">regulation of</tspan><tspan x="3207.5" dy="16.5">biological process</tspan></text></g>
<g id="GO_0007155" class="h"><rect class="o" x="3297" y="738.5" width="104" height="54"/><rect class="i" x="3308" y="744.5" width="82" height="42"/><text x="3349" y="761.75">GO:0007155<tspan x="3349" dy="16.5">cell adhesion</tspan></text></g>
<g id="GO_0009987" class="n"><rect x="3486" y="744.5" width="95" height="42"/><text x="3533.5" y="761.75">GO:0009987<tspan x="3533.5" dy="16.5">cellular process</tspan></text></g>
<g id="GO_0023052" class="n"><rect x="3800" y="744.5" width="82" height="42"/><text x="3841" y="761.75">GO:0023052<tspan x="3841" dy="16.5">signaling</tspan></text></g>
<g id="GO_0048518" class="n"><rect x="3011" y="862" width="122" height="58"/><text x="3072" y="879">GO:0048518<tspan x="3072" dy="16.5">positive regulation</tspan><tspan x="3072" dy="16.5">of biological process</tspan></text></g>
<g id="GO_0048519" class="n"><rect x="3179" y="862" width="123" height="58"/><text x="3240.5" y="879">GO:0048519<tspan x="3240.5" dy="16.5">negative regulation</tspan><tspan x="3240.5" dy="16.5">of biological process</tspan></text></g>
<g id="GO_0050794" class="n"><rect x="3448" y="862" width="94" height="58"/><text x="3495" y="879">GO:0050794<tspan x="3495" dy="16.5">regulation of</tspan><tspan x="3495" dy="16.5">cellular process</tspan></text></g>
<g id="GO_0007154" class="n"><rect x="3587" y="870.5" width="118" height="42"/><text x="3646" y="887.75">GO:0007154<tspan x="3646" dy="16.5">cell communication</tspan></text></g>
<g id="GO_0023051" class="n"><rect x="3800" y="862" width="82" height="58"/><text x="3841" y="879">GO:0023051<tspan x="3841" dy="16.5">regulation of</tspan><tspan x="3841" dy="16.5">signaling</tspan></text></g>
<g id="GO_0051093" class="n"><rect x="2951" y="995.5" width="116" height="74"/><text x="3009" y="1012.25">GO:0051093<tspan x="3009" dy="16.5">negative regulation</tspan><tspan x="3009" dy="16.5">of developmental</tspan><tspan x="3009" dy="16.5">process</tspan></text></g>
<g id="GO_0048522" class="n"><rect x="3111" y="1003.5" width="113" height="58"/><text x="3167.5" y="1020.5">GO:0048522<tspan x="3167.5" dy="16.5">positive regulation</tspan><tspan x="3167.5" dy="16.5">of cellular process</tspan></text></g>
<g id="GO_0048523" class="n"><rect x="3268" y="1003.5" width="116" height="58"/><text x="3326" y="1020.5">GO:0048523<tspan x="3326" dy="16.5">negative regulation</tspan><tspan x="3326" dy="16.5">of cellular process</tspan></text></g>
<g id="GO_0010646" class="n"><rect x="3479" y="1003.5" width="102" height="58"/><text x="3530" y="1020.5">GO:0010646<tspan x="3530" dy="16.5">regulation of cell</tspan><tspan x="3530" dy="16.5">communication</tspan></text></g>
<g id="GO_0007165" class="n"><rect x="3625" y="1011.5" width="115" height="42"/><text x="3682.5" y="1028.75">GO:0007165<tspan x="3682.5" dy="16.5">signal transduction</tspan></text></g>
<g id="GO_0035556" class="n"><rect x="3286" y="1144.5" width="112" height="58"/><text x="3342" y="1161.5">GO:0035556<tspan x="3342" dy="16.5">intracellular signal</tspan><tspan x="3342" dy="16.5">transduction</tspan></text></g>
<g id="GO_0007186" class="h"><rect class="o" x="3491" y="1130.5" width="131" height="86"/><rect class="i" x="3502" y="1136.5" width="109" height="74"/><text x="3556.5" y="1153.25">GO:0007186<tspan x="3556.5" dy="16.5">G-protein coupled</tspan><tspan x="3556.5" dy="16.5">receptor signaling</tspan><tspan x="3556.5" dy="16.5">pathway</tspan></text></g>
<g id="GO_0009966" class="n"><rect x="3656" y="1144.5" width="116" height="58"/><text x="3714" y="1161.5">GO:0009966<tspan x="3714" dy="16.5">regulation of signal</tspan><tspan x="3714" dy="16.5">transduction</tspan></text></g>
<g id="GO_0006796" class="n"><rect x="3816" y="1136.5" width="130" height="74"/><text x="3881" y="1153.25">GO:0006796<tspan x="3881" dy="16.5">phosphate-containing</tspan><tspan x="3881" dy="16.5">compound metabolic</tspan><tspan x="3881" dy="16.5">process</tspan></text></g>
<g id="GO_0045596" class="h"><rect class="o" x="3008" y="1272" width="137" height="86"/><rect class="i" x="3019" y="1278" width="115" height="74"/><text x="3076.5" y="1294.75">GO:0045596<tspan x="3076.5" dy="16.5">negative regulation</tspan><tspan x="3076.5" dy="16.5">of cell</tspan><tspan x="3076.5" dy="16.5">differentiation</tspan></text></g>
<g id="GO_1902531" class="n"><rect x="3293" y="1278" width="112" height="74"/><text x="3349" y="1294.75">GO:1902531<tspan x="3349" dy="16.5">regulation of</tspan><tspan x="3349" dy="16.5">intracellular signal</tspan><tspan x="3349" dy="16.5">transduction</tspan></text></g>
<g id="GO_0016310" class="n"><rect x="3693" y="1294.5" width="100" height="42"/><text x="3743" y="1311.75">GO:0016310<tspan x="3743" dy="16.5">phosphorylation</tspan></text></g>
<g id="GO_0016301" class="n"><rect x="3251" y="1435.5" width="90" height="42"/><text x="3296" y="1452.75">GO:0016301<tspan x="3296" dy="16.5">kinase activity</tspan></text></g>
<g id="GO_0042325" class="n"><rect x="3791" y="1427" width="100" height="58"/><text x="3841" y="1444">GO:0042325<tspan x="3841" dy="16.5">regulation of</tspan><tspan x="3841" dy="16.5">phosphorylation</tspan></text></g>
<g id="GO_0043549" class="h"><rect class="o" x="3226" y="1555" width="140" height="70"/><rect class="i" x="3237" y="1561" width="118" height="58"/><text x="3296" y="1578">GO:0043549<tspan x="3296" dy="16.5">regulation of kinase</tspan><tspan x="3296" dy="16.5">activity</tspan></text></g>
<g id="GO_0023014" class="n"><rect x="3450" y="1552.5" width="115" height="74"/><text x="3507.5" y="1569.25">GO:0023014<tspan x="3507.5" dy="16.5">signal transduction</tspan><tspan x="3507.5" dy="16.5">by protein</tspan><tspan x="3507.5" dy="16.5">phosphorylation</tspan></text></g>
<g id="GO_0042326" class="h"><rect class="o" x="3786" y="1555" width="138" height="70"/><rect class="i" x="3797" y="1561" width="116" height="58"/><text x="3855" y="1578">GO:0042326<tspan x="3855" dy="16.5">negative regulation</tspan><tspan x="3855" dy="16.5">of phosphorylation</tspan></text></g>
<g id="GO_0000165" class="n"><rect x="3261" y="1702" width="94" height="42"/><text x="3308" y="1719.25">GO:0000165<tspan x="3308" dy="16.5">MAPK cascade</tspan></text></g>
<g id="GO_0043408" class="h"><rect class="o" x="3330" y="1813.5" width="145" height="70"/><rect class="i" x="3341" y="1819.5" width="123" height="58"/><text x="3402.5" y="1836.5">GO:0043408<tspan x="3402.5" dy="16.5">regulation of MAPK</tspan><tspan x="3402.5" dy="16.5">cascade</tspan></text></g>
<g id="GO_0008152" class="n"><rect x="4523" y="635.5" width="106" height="42"/><text x="4576" y="652.75">GO:0008152<tspan x="4576" dy="16.5">metabolic process</tspan></text></g>
<g id="GO_0050896" class="n"><rect x="4059" y="744.5" width="121" height="42"/><text x="4119.5" y="761.75">GO:0050896<tspan x="4119.5" dy="16.5">response to stimulus</tspan></text></g>
<g id="GO_0071704" class="n"><rect x="4684" y="737" width="107" height="58"/><text x="4737.5" y="754">GO:0071704<tspan x="4737.5" dy="16.5">organic substance</tspan><tspan x="4737.5" dy="16.5">metabolic process</tspan></text></g>
<g id="GO_0048583" class="n"><rect x="3979" y="862" width="120" height="58"/><text x="4039" y="879">GO:0048583<tspan x="4039" dy="16.5">regulation of</tspan><tspan x="4039" dy="16.5">response to stimulus</tspan></text></g>
<g id="GO_0051716" class="n"><rect x="4144" y="862" width="114" height="58"/><text x="4201" y="879">GO:0051716<tspan x="4201" dy="16.5">cellular response to</tspan><tspan x="4201" dy="16.5">stimulus</tspan></text></g>
<g id="GO_0044237" class="n"><rect x="4304" y="862" width="108" height="58"/><text x="4358" y="879">GO:0044237<tspan x="4358" dy="16.5">cellular metabolic</tspan><tspan x="4358" dy="16.5">process</tspan></text></g>
<g id="GO_0019222" class="n"><rect x="4523" y="862" width="106" height="58"/><text x="4576" y="879">GO:0019222<tspan x="4576" dy="16.5">regulation of</tspan><tspan x="4576" dy="16.5">metabolic process</tspan></text></g>
<g id="GO_0043170" class="n"><rect x="4684" y="862" width="107" height="58"/><text x="4737.5" y="879">GO:0043170<tspan x="4737.5" dy="16.5">macromolecule</tspan><tspan x="4737.5" dy="16.5">metabolic process</tspan></text></g>
<g id="GO_0006793" class="n"><rect x="3887" y="1003.5" width="130" height="58"/><text x="3952" y="1020.5">GO:0006793<tspan x="3952" dy="16.5">phosphorus metabolic</tspan><tspan x="3952" dy="16.5">process</tspan></text></g>
<g id="GO_0031323" class="n"><rect x="4062" y="995.5" width="109" height="74"/><text x="4116.5" y="1012.25">GO:0031323<tspan x="4116.5" dy="16.5">regulation of</tspan><tspan x="4116.5" dy="16.5">cellular metabolic</tspan><tspan x="4116.5" dy="16.5">process</tspan></text></g>
<g id="GO_0009892" class="n"><rect x="4265" y="1003.5" width="122" height="58"/><text x="4326" y="1020.5">GO:0009892<tspan x="4326" dy="16.5">negative regulation</tspan><tspan x="4326" dy="16.5">of metabolic process</tspan></text></g>
<g id="GO_0044260" class="n"><rect x="4430" y="995.5" width="107" height="74"/><text x="4483.5" y="1012.25">GO:0044260<tspan x="4483.5" dy="16.5">cellular</tspan><tspan x="4483.5" dy="16.5">macromolecule</tspan><tspan x="4483.5" dy="16.5">metabolic process</tspan></text></g>
<g id="GO_0060255" class="n"><rect x="4583" y="995.5" width="106" height="74"/><text x="4636" y="1012.25">GO:0060255<tspan x="4636" dy="16.5">regulation of</tspan><tspan x="4636" dy="16.5">macromolecule</tspan><tspan x="4636" dy="16.5">metabolic process</tspan></text></g>
<g id="GO_0051174" class="n"><rect x="3989" y="1136.5" width="131" height="74"/><text x="4054.5" y="1153.25">GO:0051174<tspan x="4054.5" dy="16.5">regulation of</tspan><tspan x="4054.5" dy="16.5">phosphorus metabolic</tspan><tspan x="4054.5" dy="16.5">process</tspan></text></g>
<g id="GO_0031324" class="n"><rect x="4216" y="1136.5" width="123" height="74"/><text x="4277.5" y="1153.25">GO:0031324<tspan x="4277.5" dy="16.5">negative regulation</tspan><tspan x="4277.5" dy="16.5">of cellular metabolic</tspan><tspan x="4277.5" dy="16.5">process</tspan></text></g>
<g id="GO_0044267" class="n"><rect x="4435" y="1144.5" width="106" height="58"/><text x="4488" y="1161.5">GO:0044267<tspan x="4488" dy="16.5">cellular protein</tspan><tspan x="4488" dy="16.5">metabolic process</tspan></text></g>
<g id="GO_0010605" class="n"><rect x="4599" y="1136.5" width="117" height="74"/><text x="4657.5" y="1153.25">GO:0010605<tspan x="4657.5" dy="16.5">negative regulation</tspan><tspan x="4657.5" dy="16.5">of macromolecule</tspan><tspan x="4657.5" dy="16.5">metabolic process</tspan></text></g>
<g id="GO_0036211" class="n"><rect x="4766" y="1144.5" width="123" height="58"/><text x="4827.5" y="1161.5">GO:0036211<tspan x="4827.5" dy="16.5">protein modification</tspan><tspan x="4827.5" dy="16.5">process</tspan></text></g>
<g id="GO_0019220" class="n"><rect x="3837" y="1278" width="123" height="74"/><text x="3898.5" y="1294.75">GO:0019220<tspan x="3898.5" dy="16.5">regulation of</tspan><tspan x="3898.5" dy="16.5">phosphate metabolic</tspan><tspan x="3898.5" dy="16.5">process</tspan></text></g>
<g id="GO_0010563" class="n"><rect x="4075" y="1278" width="116" height="74"/><text x="4133" y="1294.75">GO:0010563<tspan x="4133" dy="16.5">negative regulation</tspan><tspan x="4133" dy="16.5">of phosphorus</tspan><tspan x="4133" dy="16.5">metabolic process</tspan></text></g>
<g id="GO_0032268" class="n"><rect x="4375" y="1278" width="108" height="74"/><text x="4429" y="1294.75">GO:0032268<tspan x="4429" dy="16.5">regulation of</tspan><tspan x="4429" dy="16.5">cellular protein</tspan><tspan x="4429" dy="16.5">metabolic process</tspan></text></g>
<g id="GO_0006464" class="n"><rect x="4528" y="1286.5" width="123" height="58"/><text x="4589.5" y="1303.5">GO:0006464<tspan x="4589.5" dy="16.5">cellular protein</tspan><tspan x="4589.5" dy="16.5">modification process</tspan></text></g>
<g id="GO_0045936" class="n"><rect x="3934" y="1419.5" width="117" height="74"/><text x="3992.5" y="1436.25">GO:0045936<tspan x="3992.5" dy="16.5">negative regulation</tspan><tspan x="3992.5" dy="16.5">of phosphate</tspan><tspan x="3992.5" dy="16.5">metabolic process</tspan></text></g>
<g id="GO_0006468" class="n"><rect x="4095" y="1427" width="100" height="58"/><text x="4145" y="1444">GO:0006468<tspan x="4145" dy="16.5">protein</tspan><tspan x="4145" dy="16.5">phosphorylation</tspan></text></g>
<g id="GO_0032269" class="n"><rect x="4258" y="1419.5" width="116" height="74"/><text x="4316" y="1436.25">GO:0032269<tspan x="4316" dy="16.5">negative regulation</tspan><tspan x="4316" dy="16.5">of cellular protein</tspan><tspan x="4316" dy="16.5">metabolic process</tspan></text></g>
<g id="GO_0031399" class="n"><rect x="4419" y="1427" width="122" height="58"/><text x="4480" y="1444">GO:0031399<tspan x="4480" dy="16.5">regulation of protein</tspan><tspan x="4480" dy="16.5">modification process</tspan></text></g>
<g id="GO_0001932" class="n"><rect x="3973" y="1561" width="123" height="58"/><text x="4034.5" y="1578">GO:0001932<tspan x="4034.5" dy="16.5">regulation of protein</tspan><tspan x="4034.5" dy="16.5">phosphorylation</tspan></text></g>
<g id="GO_0031400" class="h"><rect class="o" x="4325" y="1546.5" width="145" height="86"/><rect class="i" x="4336" y="1552.5" width="123" height="74"/><text x="4397.5" y="1569.25">GO:0031400<tspan x="4397.5" dy="16.5">negative regulation</tspan><tspan x="4397.5" dy="16.5">of protein</tspan><tspan x="4397.5" dy="16.5">modification process</tspan></text></g>
<g id="GO_0001933" class="h"><rect class="o" x="4021" y="1680" width="138" height="86"/><rect class="i" x="4032" y="1686" width="116" height="74"/><text x="4090" y="1702.75">GO:0001933<tspan x="4090" dy="16.5">negative regulation</tspan><tspan x="4090" dy="16.5">of protein</tspan><tspan x="4090" dy="16.5">phosphorylation</tspan></text></g>
<g id="GO_0006807" class="n"><rect x="5155" y="737" width="118" height="58"/><text x="5214" y="754">GO:0006807<tspan x="5214" dy="16.5">nitrogen compound</tspan><tspan x="5214" dy="16.5">metabolic process</tspan></text></g>
<g id="GO_0044238" class="n"><rect x="4931" y="862" width="110" height="58"/><text x="4986" y="879">GO:0044238<tspan x="4986" dy="16.5">primary metabolic</tspan><tspan x="4986" dy="16.5">process</tspan></text></g>
<g id="GO_1901564" class="n"><rect x="5085" y="854" width="126" height="74"/><text x="5148" y="870.75">GO:1901564<tspan x="5148" dy="16.5">organonitrogen</tspan><tspan x="5148" dy="16.5">compound metabolic</tspan><tspan x="5148" dy="16.5">process</tspan></text></g>
<g id="GO_0042221" class="n"><rect x="5460" y="870.5" width="123" height="42"/><text x="5521.5" y="887.75">GO:0042221<tspan x="5521.5" dy="16.5">response to chemical</tspan></text></g>
<g id="GO_0043412" class="n"><rect x="4785" y="1003.5" width="93" height="58"/><text x="4831.5" y="1020.5">GO:0043412<tspan x="4831.5" dy="16.5">macromolecule</tspan><tspan x="4831.5" dy="16.5">modification</tspan></text></g>
<g id="GO_0080090" class="n"><rect x="4925" y="1003.5" width="124" height="58"/><text x="4987" y="1020.5">GO:0080090<tspan x="4987" dy="16.5">regulation of primary</tspan><tspan x="4987" dy="16.5">metabolic process</tspan></text></g>
<g id="GO_0019538" class="n"><rect x="5095" y="1003.5" width="106" height="58"/><text x="5148" y="1020.5">GO:0019538<tspan x="5148" dy="16.5">protein metabolic</tspan><tspan x="5148" dy="16.5">process</tspan></text></g>
<g id="GO_0051171" class="n"><rect x="5247" y="995.5" width="116" height="74"/><text x="5305" y="1012.25">GO:0051171<tspan x="5305" dy="16.5">regulation of</tspan><tspan x="5305" dy="16.5">nitrogen compound</tspan><tspan x="5305" dy="16.5">metabolic process</tspan></text></g>
<g id="GO_0010033" class="n"><rect x="5463" y="1003.5" width="114" height="58"/><text x="5520" y="1020.5">GO:0010033<tspan x="5520" dy="16.5">response to organic</tspan><tspan x="5520" dy="16.5">substance</tspan></text></g>
<g id="GO_1901698" class="h"><rect class="o" x="5612" y="997.5" width="142" height="70"/><rect class="i" x="5623" y="1003.5" width="120" height="58"/><text x="5683" y="1020.5">GO:1901698<tspan x="5683" dy="16.5">response to nitrogen</tspan><tspan x="5683" dy="16.5">compound</tspan></text></g>
<g id="GO_0051246" class="n"><rect x="4935" y="1144.5" width="123" height="58"/><text x="4996.5" y="1161.5">GO:0051246<tspan x="4996.5" dy="16.5">regulation of protein</tspan><tspan x="4996.5" dy="16.5">metabolic process</tspan></text></g>
<g id="GO_0051172" class="n"><rect x="5218" y="1136.5" width="131" height="74"/><text x="5283.5" y="1153.25">GO:0051172<tspan x="5283.5" dy="16.5">negative regulation</tspan><tspan x="5283.5" dy="16.5">of nitrogen compound</tspan><tspan x="5283.5" dy="16.5">metabolic process</tspan></text></g>
<g id="GO_0010243" class="h"><rect class="o" x="5543" y="1130.5" width="117" height="86"/><rect class="i" x="5554" y="1136.5" width="95" height="74"/><text x="5601.5" y="1153.25">GO:0010243<tspan x="5601.5" dy="16.5">response to</tspan><tspan x="5601.5" dy="16.5">organonitrogen</tspan><tspan x="5601.5" dy="16.5">compound</tspan></text></g>
<g id="GO_0051248" class="n"><rect x="4936" y="1278" width="120" height="74"/><text x="4996" y="1294.75">GO:0051248<tspan x="4996" dy="16.5">negative regulation</tspan><tspan x="4996" dy="16.5">of protein metabolic</tspan><tspan x="4996" dy="16.5">process</tspan></text></g>
</svg>
